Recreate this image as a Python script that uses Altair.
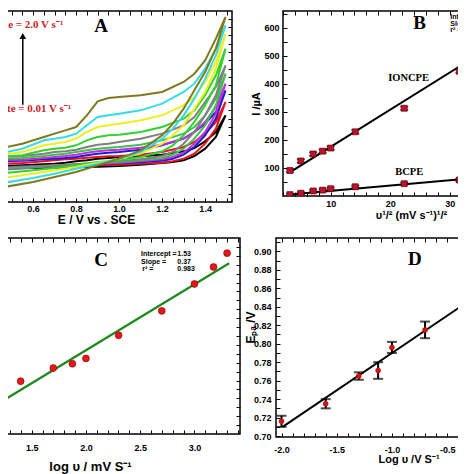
import altair as alt
import pandas as pd

FONT = "Liberation Sans"
SERIF = "Liberation Serif"

# ---------------- Panel A: cyclic voltammograms ----------------
E_fwd = [0.44, 0.55, 0.65, 0.70, 0.75, 0.80, 0.85, 0.90, 0.95, 1.0, 1.1, 1.2, 1.3, 1.35, 1.4, 1.45, 1.495]
E_rev = [1.45, 1.4, 1.35, 1.3, 1.25, 1.2, 1.1, 1.0, 0.9, 0.8, 0.7, 0.6, 0.44]
scan_rates = ["10", "25", "50", "75", "100", "200", "500", "1000", "1500", "2000"]
cv_colors = ["#000000", "#e8141c", "#1c1cd6", "#c22fd8", "#3cc24a", "#7f7f7f",
             "#2fd22f", "#eeee22", "#33dde6", "#807a1c"]
I_fwd = {
    "10":   [108, 110, 113, 115, 118, 122, 125, 130, 132, 134, 137, 142, 152, 162, 182, 210, 260],
    "25":   [115, 117, 122, 125, 128, 130, 133, 135, 137, 138, 142, 150, 165, 180, 205, 240, 300],
    "50":   [122, 124, 128, 130, 132, 135, 140, 145, 148, 150, 157, 170, 190, 210, 235, 270, 335],
    "75":   [125, 127, 132, 135, 138, 142, 148, 152, 155, 157, 163, 172, 190, 210, 240, 285, 355],
    "100":  [130, 132, 138, 142, 145, 150, 155, 160, 163, 165, 172, 185, 205, 225, 260, 310, 385],
    "200":  [135, 138, 145, 150, 152, 157, 165, 172, 175, 180, 190, 205, 230, 255, 300, 345, 410],
    "500":  [135, 140, 155, 160, 163, 170, 185, 195, 200, 202, 210, 225, 250, 275, 320, 380, 460],
    "1000": [140, 150, 170, 175, 180, 190, 210, 225, 230, 235, 245, 260, 290, 315, 360, 420, 505],
    "1500": [145, 160, 185, 190, 195, 205, 230, 255, 260, 265, 275, 295, 330, 355, 400, 460, 530],
    "2000": [160, 175, 195, 205, 215, 225, 260, 302, 312, 315, 320, 330, 360, 385, 425, 490, 555],
}
I_rev = {
    "10":   [195, 160, 138, 125, 120, 117, 112, 108, 106, 104, 103, 102, 101],
    "25":   [220, 175, 145, 130, 122, 118, 115, 112, 110, 108, 106, 105, 104],
    "50":   [250, 200, 165, 142, 130, 124, 119, 116, 113, 111, 109, 107, 105],
    "75":   [265, 210, 175, 148, 135, 128, 122, 118, 115, 112, 110, 107, 103],
    "100":  [290, 230, 190, 160, 142, 132, 125, 120, 117, 113, 110, 106, 100],
    "200":  [320, 260, 210, 175, 150, 138, 128, 122, 118, 113, 108, 103, 95],
    "500":  [350, 290, 240, 200, 170, 152, 135, 125, 120, 110, 102, 95, 85],
    "1000": [400, 330, 280, 230, 200, 175, 145, 130, 118, 105, 95, 85, 70],
    "1500": [440, 370, 310, 260, 220, 190, 150, 130, 115, 100, 85, 72, 55],
    "2000": [460, 390, 335, 280, 235, 200, 155, 130, 110, 90, 75, 60, 42],
}
A_xdom = [0.26, 1.525]
A_ydom = [0, 573]
A_xticks = [0.4, 0.6, 0.8, 1.0, 1.2, 1.4]

# ---------------- Panel B: Ip vs sqrt(scan rate) ----------------
B_x = [3.16, 5.0, 7.07, 8.66, 10.0, 14.14, 22.36, 31.62]
B_ion = [91, 125, 150, 160, 171, 229, 313, 445]
B_ion_err = [6, 6, 6, 6, 6, 6, 6, 6]
B_bc = [5, 10, 18, 21, 26, 33, 44, 57]
B_bc_err = [4, 4, 4, 4, 4, 4, 4, 4]
B_fit_x = [3.2, 44.7]
B_ion_fit = [85, 635]
B_bc_fit = [5, 84]
B_xdom = [2, 45]
B_ydom = [0, 660]
B_xticks = [10, 20, 30, 40]
B_yticks = [100, 200, 300, 400, 500, 600]

# ---------------- Panel C: log Ip vs log scan rate ----------------
C_x = [1.398, 1.699, 1.875, 2.0, 2.301, 2.699, 3.0, 3.176, 3.301]
C_y = [2.096, 2.170, 2.194, 2.224, 2.354, 2.491, 2.642, 2.737, 2.815]
C_fit_x = [0.84, 3.32]
C_fit_y = [1.841, 2.758]
C_xdom = [0.839, 3.42]
C_ydom = [1.8, 2.9]
C_xticks = [1.0, 1.5, 2.0, 2.5, 3.0]

# ---------------- Panel D: Epa vs log scan rate ----------------
D_x = [-2.0, -1.6, -1.3, -1.125, -1.0, -0.7, -0.3]
D_y = [0.716, 0.735, 0.765, 0.771, 0.796, 0.815, 0.853]
D_err = [0.006, 0.005, 0.004, 0.009, 0.006, 0.009, 0.007]
D_fit_x = [-1.99, 0.30]
D_fit_y = [0.710, 0.895]
D_xdom = [-2.05, 0.35]
D_ydom = [0.699, 0.9145]
D_xticks = [-2.0, -1.5, -1.0, -0.5, 0.0]
D_yticks = [0.70, 0.72, 0.74, 0.76, 0.78, 0.80, 0.82, 0.84, 0.86, 0.88, 0.90]


def sc(dom):
    return alt.Scale(domain=dom, nice=False, zero=False)


def main_axis(orient, title, values, fmt=None, label_pad=4, title_pad=2,
              title_size=12, label_size=9, **kw):
    args = dict(orient=orient, title=title, values=values, ticks=False, domain=False,
                grid=False, labelFont=FONT, labelFontWeight="bold",
                labelFontSize=label_size, labelColor="black", titleFont=FONT,
                titleFontWeight="bold", titleFontSize=title_size, titleColor="black",
                labelPadding=label_pad, titlePadding=title_pad)
    if fmt:
        args["format"] = fmt
    args.update(kw)
    return alt.Axis(**args)


def tick_axis(orient, values, size=4):
    return alt.Axis(orient=orient, values=values, labels=False, domain=False,
                    grid=False, title=None, ticks=True, tickSize=size,
                    offset=-size, tickColor="black", tickWidth=1)


def frange(a, b, step):
    n = int(round((b - a) / step))
    return [round(a + i * step, 4) for i in range(n + 1)]


def ticks_layer(xdom, ydom, xorient=None, xvals=None, yorient=None, yvals=None, size=4):
    d = pd.DataFrame({"tx": [xdom[0]], "ty": [ydom[0]]})
    xa = tick_axis(xorient, xvals, size) if xvals else None
    ya = tick_axis(yorient, yvals, size) if yvals else None
    return alt.Chart(d).mark_point(opacity=0).encode(
        x=alt.X("tx:Q", scale=sc(xdom), axis=xa),
        y=alt.Y("ty:Q", scale=sc(ydom), axis=ya))


def text_layer(xdom, ydom, xs, ys, texts, **mark):
    d = pd.DataFrame({"x": xs, "y": ys, "t": texts})
    return alt.Chart(d).mark_text(clip=True, **mark).encode(
        x=alt.X("x:Q", scale=sc(xdom), axis=None),
        y=alt.Y("y:Q", scale=sc(ydom), axis=None),
        text="t:N")


# ---------------- build panel A ----------------
rows = []
for k, r in enumerate(scan_rates):
    Es = E_fwd + E_rev
    Is = I_fwd[r] + I_rev[r]
    for i, (e, v) in enumerate(zip(Es, Is)):
        rows.append({"rate": r, "k": k, "E": e, "I": v, "o": i})
dfA = pd.DataFrame(rows)

A_lines = alt.Chart(dfA).mark_line(strokeWidth=2, clip=True).encode(
    x=alt.X("E:Q", scale=sc(A_xdom),
            axis=main_axis("bottom", "E / V vs . SCE", A_xticks, ".1f",
                           label_pad=2, title_pad=1, title_size=12)),
    y=alt.Y("I:Q", scale=sc(A_ydom), axis=None),
    color=alt.Color("rate:N", scale=alt.Scale(domain=scan_rates, range=cv_colors), legend=None),
    detail="rate:N",
    order="o:Q",
)
arrow_df = pd.DataFrame({"x": [0.552], "y1": [292], "y2": [498]})
A_arrow = alt.Chart(arrow_df).mark_rule(strokeWidth=1.5, color="black", clip=True).encode(
    x=alt.X("x:Q", scale=sc(A_xdom), axis=None),
    y=alt.Y("y1:Q", scale=sc(A_ydom), axis=None), y2="y2:Q")
A_head = alt.Chart(arrow_df).mark_point(shape="triangle-up", filled=True, color="black",
                                       size=45, opacity=1, clip=True).encode(
    x=alt.X("x:Q", scale=sc(A_xdom), axis=None),
    y=alt.Y("y2:Q", scale=sc(A_ydom), axis=None))
A_rate_txt = text_layer(A_xdom, A_ydom, [0.74, 0.777], [531, 280],
                        ["Scan rate = 2.0 V s\u207b\u00b9", "Scan rate = 0.01 V s\u207b\u00b9"],
                        font=SERIF, fontWeight="bold", fontSize=11, color="#d02020",
                        align="right", baseline="middle")
A_letter = text_layer(A_xdom, A_ydom, [0.916], [528], ["A"], font=SERIF,
                      fontWeight="bold", fontSize=19, color="black",
                      align="center", baseline="middle")
A_t1 = ticks_layer(A_xdom, A_ydom, "top", frange(0.3, 1.5, 0.05), "right", frange(25, 550, 25))
A_t2 = ticks_layer(A_xdom, A_ydom, "bottom", frange(0.3, 1.5, 0.05))
panelA = alt.layer(A_lines, A_arrow, A_head, A_rate_txt, A_letter, A_t1, A_t2).resolve_axis(
    x="independent", y="independent").properties(width=272, height=191)

# ---------------- build panel B ----------------
dfB = pd.DataFrame({
    "x": B_x + B_x,
    "I": B_ion + B_bc,
    "lo": [v - e for v, e in zip(B_ion, B_ion_err)] + [v - e for v, e in zip(B_bc, B_bc_err)],
    "hi": [v + e for v, e in zip(B_ion, B_ion_err)] + [v + e for v, e in zip(B_bc, B_bc_err)],
    "s": ["IONCPE"] * len(B_x) + ["BCPE"] * len(B_x),
})
dfBfit = pd.DataFrame({"x": B_fit_x + B_fit_x, "I": B_ion_fit + B_bc_fit,
                       "s": ["IONCPE", "IONCPE", "BCPE", "BCPE"]})
B_fit = alt.Chart(dfBfit).mark_line(color="black", strokeWidth=2, clip=True).encode(
    x=alt.X("x:Q", scale=sc(B_xdom),
            axis=main_axis("bottom", "\u03c5\u00b9/\u00b2 (mV s\u207b\u00b9)\u00b9/\u00b2", B_xticks,
                           label_pad=3, title_pad=1, title_size=11)),
    y=alt.Y("I:Q", scale=sc(B_ydom),
            axis=main_axis("left", "I /\u00b5A", B_yticks, label_pad=4, title_pad=2,
                           title_size=11)),
    detail="s:N")
B_err = alt.Chart(dfB).mark_rule(color="black", strokeWidth=1.2, clip=True).encode(
    x=alt.X("x:Q", scale=sc(B_xdom), axis=None),
    y=alt.Y("lo:Q", scale=sc(B_ydom), axis=None), y2="hi:Q")
B_cap_lo = alt.Chart(dfB).mark_tick(orient="horizontal", size=8, thickness=1.5, color="black",
                                    clip=True).encode(
    x=alt.X("x:Q", scale=sc(B_xdom), axis=None),
    y=alt.Y("lo:Q", scale=sc(B_ydom), axis=None))
B_cap_hi = alt.Chart(dfB).mark_tick(orient="horizontal", size=8, thickness=1.5, color="black",
                                    clip=True).encode(
    x=alt.X("x:Q", scale=sc(B_xdom), axis=None),
    y=alt.Y("hi:Q", scale=sc(B_ydom), axis=None))
B_pts = alt.Chart(dfB).mark_square(size=36, color="#c0102a", opacity=1, stroke="#400000",
                                   strokeWidth=0.6, clip=True).encode(
    x=alt.X("x:Q", scale=sc(B_xdom), axis=None),
    y=alt.Y("I:Q", scale=sc(B_ydom), axis=None))
B_labels = text_layer(B_xdom, B_ydom, [23.1, 23.2], [420, 85], ["IONCPE", "BCPE"],
                      font=SERIF, fontWeight="bold", fontSize=10.5, color="black",
                      align="center", baseline="middle")
B_letter = text_layer(B_xdom, B_ydom, [24.96], [618], ["B"], font=SERIF, fontWeight="bold",
                      fontSize=19, color="black", align="center", baseline="middle")
B_stats = text_layer(B_xdom, B_ydom, [30.1, 30.1, 30.1, 33.5, 33.5, 33.5],
                     [638, 614, 591, 210, 186, 162],
                     ["Intercept =", "Slope =", "r\u00b2 =", "Intercept =", "Slope =", "r\u00b2 ="],
                     font=FONT, fontWeight="bold", fontSize=7, color="black",
                     align="left", baseline="middle")
B_t1 = ticks_layer(B_xdom, B_ydom, "top", frange(2, 44, 2), "right", frange(50, 650, 50))
B_t2 = ticks_layer(B_xdom, B_ydom, "bottom", frange(2, 44, 2), "left", frange(50, 650, 50))
panelB = alt.layer(B_fit, B_err, B_cap_lo, B_cap_hi, B_pts, B_labels, B_letter, B_stats,
                   B_t1, B_t2).resolve_axis(x="independent", y="independent").properties(
    width=256, height=185)

# ---------------- build panel C ----------------
dfC = pd.DataFrame({"x": C_x, "y": C_y})
dfCfit = pd.DataFrame({"x": C_fit_x, "y": C_fit_y})
C_fit = alt.Chart(dfCfit).mark_line(color="#1f8a1f", strokeWidth=2.2, clip=True).encode(
    x=alt.X("x:Q", scale=sc(C_xdom),
            axis=main_axis("bottom", "log \u03c5 / mV S\u207b\u00b9", C_xticks, ".1f",
                           label_pad=9, title_pad=8, title_size=13, titleX=130)),
    y=alt.Y("y:Q", scale=sc(C_ydom), axis=None))
C_pts = alt.Chart(dfC).mark_circle(size=48, color="#e01a1a", opacity=1, stroke="#900000",
                                   strokeWidth=0.6, clip=True).encode(
    x=alt.X("x:Q", scale=sc(C_xdom), axis=None),
    y=alt.Y("y:Q", scale=sc(C_ydom), axis=None))
C_letter = text_layer(C_xdom, C_ydom, [2.139], [2.777], ["C"], font=SERIF, fontWeight="bold",
                      fontSize=19, color="black", align="center", baseline="middle")
C_stats_l = text_layer(C_xdom, C_ydom, [2.508, 2.508, 2.52], [2.811, 2.768, 2.727],
                       ["Intercept =", "Slope =", "r\u00b2 ="], font=FONT, fontWeight="bold",
                       fontSize=7, color="black", align="left", baseline="middle")
C_stats_r = text_layer(C_xdom, C_ydom, [2.842, 2.842, 2.842], [2.811, 2.768, 2.727],
                       ["1.53", "0.37", "0.983"], font=FONT, fontWeight="bold",
                       fontSize=7, color="black", align="left", baseline="middle")
C_t1 = ticks_layer(C_xdom, C_ydom, "top", frange(0.9, 3.4, 0.1), "right", frange(1.85, 2.85, 0.05))
C_t2 = ticks_layer(C_xdom, C_ydom, "bottom", frange(0.9, 3.4, 0.1))
panelC = alt.layer(C_fit, C_pts, C_letter, C_stats_l, C_stats_r, C_t1, C_t2).resolve_axis(
    x="independent", y="independent").properties(width=280, height=196)

# ---------------- build panel D ----------------
dfD = pd.DataFrame({"x": D_x, "y": D_y,
                    "lo": [v - e for v, e in zip(D_y, D_err)],
                    "hi": [v + e for v, e in zip(D_y, D_err)]})
dfDfit = pd.DataFrame({"x": D_fit_x, "y": D_fit_y})
D_fit = alt.Chart(dfDfit).mark_line(color="black", strokeWidth=2, clip=True).encode(
    x=alt.X("x:Q", scale=sc(D_xdom),
            axis=main_axis("bottom", "Log \u03c5 /V S\u207b\u00b9", D_xticks,
                           label_pad=8, title_pad=-1, title_size=11,
                           labelExpr="replace(format(datum.value, '.1f'), '\u2212', '-')")),
    y=alt.Y("y:Q", scale=sc(D_ydom),
            axis=main_axis("left", "E\u209a\u2090 /V", D_yticks, ".2f", label_pad=5,
                           title_pad=-4, title_size=12, titleY=89)))
D_err_rule = alt.Chart(dfD).mark_rule(color="black", strokeWidth=2, clip=True).encode(
    x=alt.X("x:Q", scale=sc(D_xdom), axis=None),
    y=alt.Y("lo:Q", scale=sc(D_ydom), axis=None), y2="hi:Q")
D_cap_lo = alt.Chart(dfD).mark_tick(orient="horizontal", size=10, thickness=2, color="black",
                                    clip=True).encode(
    x=alt.X("x:Q", scale=sc(D_xdom), axis=None),
    y=alt.Y("lo:Q", scale=sc(D_ydom), axis=None))
D_cap_hi = alt.Chart(dfD).mark_tick(orient="horizontal", size=10, thickness=2, color="black",
                                    clip=True).encode(
    x=alt.X("x:Q", scale=sc(D_xdom), axis=None),
    y=alt.Y("hi:Q", scale=sc(D_ydom), axis=None))
D_pts = alt.Chart(dfD).mark_circle(size=30, color="#cc1414", opacity=1, clip=True).encode(
    x=alt.X("x:Q", scale=sc(D_xdom), axis=None),
    y=alt.Y("y:Q", scale=sc(D_ydom), axis=None))
D_letter = text_layer(D_xdom, D_ydom, [-0.793], [0.892], ["D"], font=SERIF, fontWeight="bold",
                      fontSize=19, color="black", align="center", baseline="middle")
D_t1 = ticks_layer(D_xdom, D_ydom, "top", frange(-2.0, 0.3, 0.1), "right", frange(0.70, 0.91, 0.01))
D_t2 = ticks_layer(D_xdom, D_ydom, "bottom", frange(-2.0, 0.3, 0.1), "left", frange(0.70, 0.91, 0.01))
panelD = alt.layer(D_fit, D_err_rule, D_cap_lo, D_cap_hi, D_pts, D_letter, D_t1, D_t2).resolve_axis(
    x="independent", y="independent").properties(width=265, height=199)

row1 = alt.hconcat(panelA, panelB, spacing=16)
row2 = alt.hconcat(panelC, panelD, spacing=1)
chart = alt.vconcat(row1, row2, spacing=10).properties(
    padding={"left": -52, "top": 1, "right": -85, "bottom": 0},
    background="white",
).configure_view(stroke="black", strokeWidth=1.5)

chart.save("out.html", embed_options={"renderer": "svg", "actions": False})
